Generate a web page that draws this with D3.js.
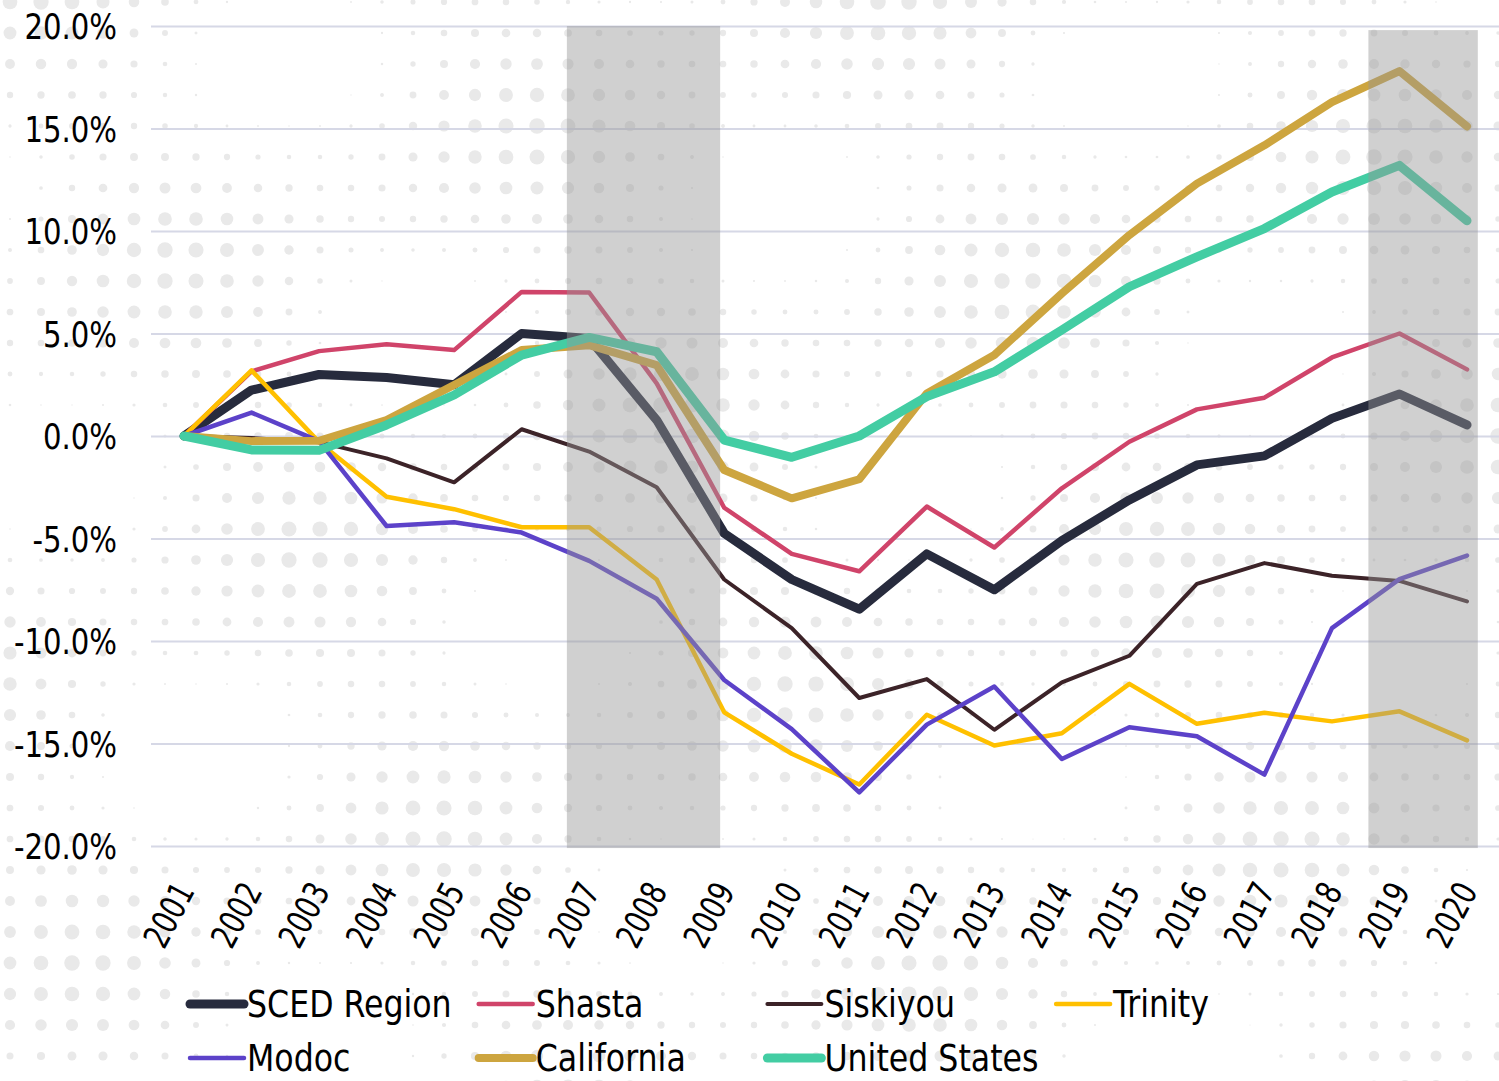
<!DOCTYPE html>
<html><head><meta charset="utf-8">
<script src="https://cdn.jsdelivr.net/npm/d3@7"></script>
<style>
html,body{margin:0;padding:0;background:#fff;}
svg text{font-family:"DejaVu Sans Condensed","Liberation Sans Narrow",sans-serif;fill:#000;}
</style></head>
<body>
<svg id="chart" width="1499" height="1081"></svg>
<script>
const years = [2001,2002,2003,2004,2005,2006,2007,2008,2009,2010,2011,2012,2013,2014,2015,2016,2017,2018,2019,2020];
const seriesNames = ["SCED Region","Shasta","Siskiyou","Trinity","Modoc","California","United States"];
const scedRegion = [0,2.24,3.0,2.85,2.5,5.0,4.76,0.78,-4.75,-7.0,-8.45,-5.75,-7.5,-5.1,-3.12,-1.41,-0.97,0.86,2.05,0.54];
const shasta = [0,3.15,4.14,4.48,4.19,7.03,7.0,2.57,-3.5,-5.75,-6.6,-3.44,-5.44,-2.55,-0.28,1.3,1.87,3.83,5.0,3.25];
const siskiyou = [0,-0.1,-0.3,-1.09,-2.26,0.33,-0.76,-2.5,-7.0,-9.37,-12.78,-11.86,-14.33,-12.02,-10.72,-7.21,-6.2,-6.82,-7.07,-8.07];
const trinity = [0,3.2,-0.3,-2.96,-3.57,-4.45,-4.45,-7.0,-13.48,-15.5,-17.0,-13.6,-15.1,-14.5,-12.09,-14.04,-13.5,-13.92,-13.43,-14.85];
const modoc = [0,1.14,-0.25,-4.39,-4.21,-4.71,-6.09,-7.94,-11.9,-14.3,-17.38,-14.08,-12.22,-15.76,-14.21,-14.65,-16.52,-9.37,-6.98,-5.83];
const california = [0,-0.25,-0.23,0.78,2.49,4.19,4.43,3.46,-1.66,-3.04,-2.11,2.08,3.95,6.95,9.8,12.31,14.18,16.29,17.8,15.1];
const unitedStates = [0,-0.68,-0.7,0.54,2.0,3.95,4.81,4.11,-0.2,-1.04,0.0,1.92,3.13,5.17,7.28,8.74,10.12,11.9,13.2,10.5];
const yTicks = [-20,-15,-10,-5,0,5,10,15,20];
// recession shading, in year units: [start, end, top value]
const recessions = [[2006.67,2008.94,20],[2018.54,2020.16,19.8]];

const colors = ["#272b3d","#d0446a","#3c2328","#ffc000","#5c42c9","#cda53f","#43cda3"];
const widths = [9,4.5,4,4.5,4.5,8,9];
const allValues = [scedRegion,shasta,siskiyou,trinity,modoc,california,unitedStates];

const W = 1499, H = 1081;
const svg = d3.select("#chart");
const x = d3.scaleLinear().domain([2001,2020]).range([184,1467]);
const y = d3.scaleLinear().domain([-20,20]).range([846,26]);

// squeeze text horizontally to mimic the narrow typeface
function squeeze(sel, f) {
  sel.each(function() {
    const L = this.getComputedTextLength();
    d3.select(this).attr("textLength", L * f).attr("lengthAdjust", "spacingAndGlyphs");
  });
}

// decorative halftone background
const bg = svg.append("g");
const dots = [];
for (let py = 2; py < H + 10; py += 31) {
  for (let px = 10; px < W + 10; px += 31) {
    const v = 0.5 + 0.5 * Math.sin(px * 0.011 + py * 0.006 + 1.2) * Math.cos(py * 0.013 - px * 0.004 + 0.4);
    const r = Math.max(0, 9 * v - 1.2);
    if (r > 0.6) dots.push({px, py, r});
  }
}
bg.selectAll("circle").data(dots).join("circle")
  .attr("cx", d => d.px).attr("cy", d => d.py).attr("r", d => d.r)
  .attr("fill", "#e9e9e9");

// gridlines
svg.append("g").attr("transform","translate(151,0)")
  .call(d3.axisLeft(y).tickValues(yTicks).tickSize(-(W-151)).tickFormat(""))
  .call(g => g.select(".domain").remove())
  .call(g => g.selectAll(".tick line").attr("stroke","#d6d8e6").attr("stroke-width",2));

// y labels
svg.append("g").attr("transform","translate(117,0)")
  .call(d3.axisLeft(y).tickValues(yTicks).tickSize(0).tickPadding(0).tickFormat(d => d.toFixed(1) + "%"))
  .call(g => g.select(".domain").remove())
  .call(g => g.selectAll("text").attr("font-size",36).attr("dy","0.36em")
     .style("font-family",'"DejaVu Sans Condensed",sans-serif'))
  .call(g => squeeze(g.selectAll("text"), 0.9));

// x labels
svg.append("g").attr("transform","translate(0,846)")
  .call(d3.axisBottom(x).tickValues(years).tickSize(0).tickFormat(d3.format("d")))
  .call(g => g.select(".domain").remove())
  .call(g => g.selectAll("text")
     .attr("font-size",35)
     .style("font-family",'"DejaVu Sans Condensed",sans-serif')
     .attr("text-anchor","end").attr("y",0).attr("dy",0)
     .attr("transform","translate(11,45) rotate(-62)"))
  .call(g => squeeze(g.selectAll("text"), 0.84));

// lines
const line = d3.line().x((d,i) => x(years[i])).y(d => y(d));
const lg = svg.append("g");
allValues.forEach((vals,i) => {
  lg.append("path").datum(vals).attr("d", line)
    .attr("fill","none").attr("stroke",colors[i]).attr("stroke-width",widths[i])
    .attr("stroke-linejoin","round").attr("stroke-linecap","round");
});

// recession bands (semi-transparent over lines)
svg.append("g").selectAll("rect").data(recessions).join("rect")
  .attr("x", d => x(d[0])).attr("width", d => x(d[1]) - x(d[0]))
  .attr("y", d => y(d[2])).attr("height", d => y(-20.1) - y(d[2]))
  .attr("fill","rgb(150,150,150)").attr("fill-opacity",0.45);

// legend
const leg = svg.append("g");
seriesNames.forEach((name,i) => {
  const col = i % 4, row = Math.floor(i / 4);
  const lx = 190 + col * 288.7, ly = 1004 + row * 54;
  leg.append("line").attr("x1",lx).attr("x2",lx+54).attr("y1",ly).attr("y2",ly)
    .attr("stroke",colors[i]).attr("stroke-width",widths[i]).attr("stroke-linecap","round");
  leg.append("text").attr("x",lx+57).attr("y",ly).attr("dy","0.36em")
    .attr("font-size",37).text(name);
});
squeeze(leg.selectAll("text"), 0.95);
</script>
</body></html>
